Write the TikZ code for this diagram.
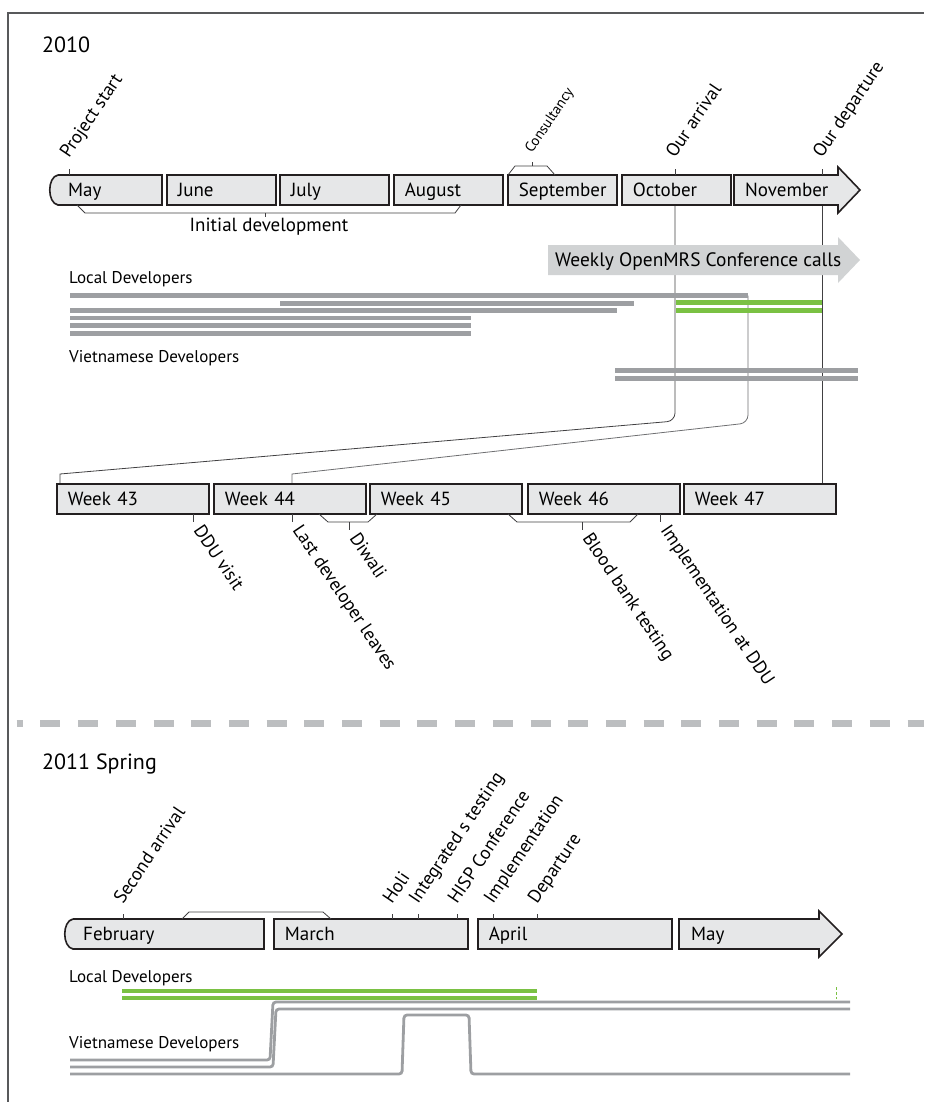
\documentclass[tikz,border=0pt]{standalone}
\usepackage{fontspec}
\setmainfont{PT Sans}
\usetikzlibrary{positioning, calc}
\definecolor{boxfill}{HTML}{E6E7E8}
\definecolor{boxline}{HTML}{231F20}
\definecolor{devgray}{HTML}{9D9FA2}
\definecolor{devgreen}{HTML}{7AC143}
\definecolor{callfill}{HTML}{D1D3D4}
\definecolor{sepgray}{HTML}{BCBEC0}
\definecolor{framegray}{HTML}{58595B}
\definecolor{linkgray}{HTML}{414042}
\tikzset{
    monthbox/.style={draw=boxline, fill=boxfill, line width=1.6, minimum height=30, inner xsep=11, inner ysep=0, anchor=west, align=left, text height=14, text depth=1, font=\fontsize{19}{22}\selectfont},
    monthshape/.style={draw=boxline, fill=boxfill, line width=1.6, line join=miter},
    monthtext/.style={anchor=west, inner sep=0, text height=14, text depth=1, font=\fontsize{19}{22}\selectfont},
    tickline/.style={draw=linkgray, line width=0.8},
    uplabel/.style={rotate=56, anchor=base west, inner sep=0, font=\fontsize{18.5}{22}\selectfont},
    downlabel/.style={rotate=-56, anchor=base west, inner sep=0, font=\fontsize{18.5}{22}\selectfont},
    devbar/.style={draw=devgray, line width=4.6},
    greenbar/.style={draw=devgreen, line width=4.6},
    stepline/.style={draw=devgray, line width=2.8, rounded corners=3},
    grouplabel/.style={anchor=base west, inner sep=0, font=\fontsize{17}{20}\selectfont},
    yearlabel/.style={anchor=base west, inner sep=0, font=\fontsize{22}{26}\selectfont}
}

\begin{document}
\begin{tikzpicture}[x=1pt, y=-1pt]
    \useasboundingbox (0,0) rectangle (924,1102);
    \draw[framegray, line width=1.5] (8,1102) -- (8,13) -- (924,13);

    % ---------------- 2010 ----------------
    \node[yearlabel] (y2010) at (42,53) {2010};

    \coordinate (arrive) at (675,205);
    \coordinate (depart) at (822,205);
    \coordinate (lastdev) at (748,295.7);
    \coordinate (w43in) at (60,484);
    \coordinate (w44in) at (292,484);
    \coordinate (w47in) at (822,484);

    % links down to the weeks
    \draw[tickline] (arrive) [rounded corners=8] -- (675,421) [sharp corners] -- (60,474) -- (w43in);
    \draw[tickline, draw=devgray!70!black] (lastdev) [rounded corners=8] -- (748,423) [sharp corners] -- (292,474) -- (w44in);
    \draw[tickline] (depart) -- (w47in);

    % months
    \draw[monthshape] (58,175) -- (162,175) -- (162,205) -- (58,205) .. controls (47,203) and (47,177) .. (58,175);
    \node[monthtext] (may) at (68,190) {May};
    \foreach \id/\x/\txt in {jun/166/June, jul/279/July, aug/393/August, sep/507/September, oct/621/October}
        \node[monthbox, text width=87] (\id) at (\x,190) {\txt};
    \draw[monthshape] (734,175) -- (838,175) -- (838,167) -- (860,190) -- (838,213) -- (838,205) -- (734,205) -- cycle;
    \node[monthtext] (nov) at (745,190) {November};

    % events above the months
    \foreach \x/\txt in {69/Project start, 675/Our arrival, 822/Our departure} {
        \draw[tickline] (\x,175) -- (\x,169);
        \node[uplabel] at (\x,159) {\txt};
    }
    \draw[tickline] (508,175) -- (515,166) -- (547,166) -- (555,175);
    \draw[tickline] (532,166) -- (532,162);
    \node[uplabel, font=\fontsize{14.5}{17}\selectfont] (consult) at (532,154) {Consultancy};

    \draw[tickline] (77,205) -- (85,213) -- (455,213) -- (461,205);
    \draw[tickline] (265,213) -- (265,217);
    \node[anchor=base, inner sep=0, font=\fontsize{19}{22}\selectfont] (initdev) at (269,231) {Initial development};

    % conference calls
    \fill[callfill] (548,245) -- (838,245) -- (838,237) -- (860,260) -- (838,283) -- (838,275) -- (548,275) -- cycle;
    \node[monthtext, font=\fontsize{19.4}{22}\selectfont] (calls) at (555,260) {Weekly OpenMRS Conference calls};

    % developers
    \node[grouplabel] (local) at (69,283) {Local Developers};
    \draw[devbar] (70,295.7) -- (lastdev);
    \draw[devbar] (280,303.3) -- (634,303.3);
    \draw[devbar] (70,310.5) -- (617,310.5);
    \foreach \y in {318,325.5,333.2}
        \draw[devbar] (70,\y) -- (471,\y);
    \draw[greenbar] (676,302.5) -- (822,302.5);
    \draw[greenbar] (676,310.5) -- (822,310.5);

    \node[grouplabel] (viet) at (69,362) {Vietnamese Developers};
    \draw[devbar] (615,370.2) -- (858,370.2);
    \draw[devbar] (615,378.2) -- (858,378.2);

    % weeks
    \foreach \n/\x in {43/56, 44/213, 45/369, 46/527, 47/683}
        \node[monthbox, text width=130] (w\n) at (\x,499) {Week \n};

    \foreach \x/\txt in {193/DDU visit, 292/Last developer leaves, 660/Implementation at DDU} {
        \draw[tickline] (\x,514) -- (\x,522);
        \node[downlabel] at (\x,530) {\txt};
    }
    \draw[tickline] (319,514) -- (328,522) -- (368,522) -- (377,514);
    \draw[tickline] (349,522) -- (349,530);
    \node[downlabel] (diwali) at (349,538) {Diwali};
    \draw[tickline] (508,514) -- (517,522) -- (630,522) -- (638,514);
    \draw[tickline] (582,522) -- (582,530);
    \node[downlabel] (blood) at (582,538) {Blood bank testing};

    % separator
    \draw[sepgray, line width=7, dash pattern=on 20pt off 17.7pt, dash phase=14pt] (16.7,723) -- (924,723);

    % ---------------- 2011 ----------------
    \node[yearlabel] (y2011) at (42,769) {2011 Spring};

    \draw[monthshape] (73,919) -- (264,919) -- (264,949) -- (73,949) .. controls (62,947) and (62,921) .. (73,919);
    \node[monthtext] (feb) at (83,934) {February};
    \node[monthbox, text width=172] (mar) at (273,934) {March};
    \node[monthbox, text width=172] (apr) at (477,934) {April};
    \draw[monthshape] (679,919) -- (819,919) -- (819,911) -- (842,934) -- (819,957) -- (819,949) -- (679,949) -- cycle;
    \node[monthtext] (may2) at (691,934) {May};

    \draw[tickline] (182,919) -- (189,912) -- (323,912) -- (331,919);
    \foreach \x/\txt in {123/Second arrival, 392/Holi, 418/Integrated s testing, 457/HISP Conference, 493/Implementation, 537/Departure} {
        \draw[tickline] (\x,919) -- (\x,914);
        \node[uplabel] at (\x,905) {\txt};
    }

    \node[grouplabel] (local2) at (69,982) {Local Developers};
    \draw[greenbar, line width=4.2] (122,991) -- (537,991);
    \draw[greenbar, line width=4.2] (122,998) -- (537,998);
    \draw[devgreen, line width=0.8, dash pattern=on 3pt off 2pt] (836,987) -- (836,999);

    \node[grouplabel] (viet2) at (69,1048) {Vietnamese Developers};
    \draw[stepline] (70,1060) -- (270,1060) -- (273,1002) -- (850,1002);
    \draw[stepline] (70,1067) -- (273,1067) -- (276,1009) -- (850,1009);
    \draw[stepline] (70,1074) -- (402,1074) -- (404,1015) -- (469,1015) -- (471,1074) -- (850,1074);
\end{tikzpicture}
\end{document}
